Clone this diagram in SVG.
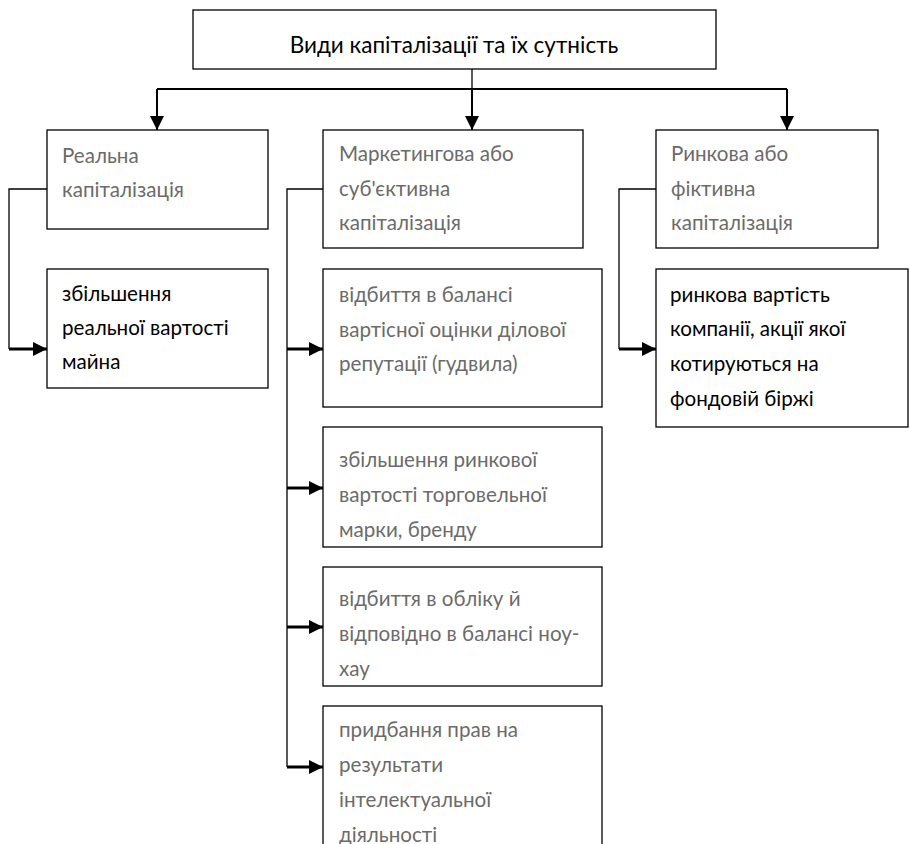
<svg xmlns="http://www.w3.org/2000/svg" width="910" height="844" viewBox="0 0 910 844">
<style>
.box{fill:#fff;stroke:#000;stroke-width:1.3}
.t{font-family:Lato,"Open Sans","Liberation Sans",sans-serif;font-size:20.6px}
.g{fill:#6b6b6b}
.k{fill:#000}
.title{font-family:Lato,"Open Sans","Liberation Sans",sans-serif;font-size:22.5px;fill:#000}
.thin{fill:none;stroke:#000;stroke-width:1.3}
.mid{fill:none;stroke:#000;stroke-width:2}
.thick{fill:none;stroke:#000;stroke-width:2.8}
</style>
<defs>
<marker id="ah" viewBox="0 0 14 14" refX="14" refY="7" markerWidth="14" markerHeight="14" markerUnits="userSpaceOnUse" orient="auto">
<path d="M0,0 L14,7 L0,14 z" fill="#000"/>
</marker>
</defs>
<g id="connectors">
<path class="thin" d="M472,69 V89"/>
<path class="mid" d="M157,89 H787"/>
<path class="mid" d="M157,89 V130" marker-end="url(#ah)"/>
<path class="mid" d="M472,89 V130" marker-end="url(#ah)"/>
<path class="mid" d="M787,89 V130" marker-end="url(#ah)"/>
<path class="thin" d="M47,189 H9 V349"/>
<path class="thick" d="M9,349 H47" marker-end="url(#ah)"/>
<path class="thin" d="M323,189 H287 V767"/>
<path class="thick" d="M287,349 H323" marker-end="url(#ah)"/>
<path class="thick" d="M287,488 H323" marker-end="url(#ah)"/>
<path class="thick" d="M287,627 H323" marker-end="url(#ah)"/>
<path class="thick" d="M287,767 H323" marker-end="url(#ah)"/>
<path class="thin" d="M656,189 H619 V349"/>
<path class="thick" d="M619,349 H656" marker-end="url(#ah)"/>
</g>
<g id="title">
<rect class="box" x="193" y="10" width="523" height="59"/>
<text class="title" x="454" y="53" text-anchor="middle">Види капіталізації та їх сутність</text>
</g>
<g id="real">
<rect class="box" x="47" y="130" width="221" height="99"/>
<text class="t g"><tspan x="62" y="163">Реальна</tspan><tspan x="62" y="197">капіталізація</tspan></text>
</g>
<g id="real-desc">
<rect class="box" x="47" y="269" width="221" height="119"/>
<text class="t k"><tspan x="62" y="301">збільшення</tspan><tspan x="62" y="335">реальної вартості</tspan><tspan x="62" y="369">майна</tspan></text>
</g>
<g id="marketing">
<rect class="box" x="323" y="130" width="260" height="118"/>
<text class="t g"><tspan x="339" y="161">Маркетингова або</tspan><tspan x="339" y="196">суб'єктивна</tspan><tspan x="339" y="230">капіталізація</tspan></text>
</g>
<g id="m1">
<rect class="box" x="323" y="269" width="279" height="138"/>
<text class="t g"><tspan x="339" y="302">відбиття в балансі</tspan><tspan x="339" y="337">вартісної оцінки ділової</tspan><tspan x="339" y="371">репутації (гудвила)</tspan></text>
</g>
<g id="m2">
<rect class="box" x="323" y="427" width="279" height="120"/>
<text class="t g"><tspan x="339" y="467">збільшення ринкової</tspan><tspan x="339" y="502">вартості торговельної</tspan><tspan x="339" y="537">марки, бренду</tspan></text>
</g>
<g id="m3">
<rect class="box" x="323" y="567" width="279" height="119"/>
<text class="t g"><tspan x="339" y="606">відбиття в обліку й</tspan><tspan x="339" y="641">відповідно в балансі ноу-</tspan><tspan x="339" y="676">хау</tspan></text>
</g>
<g id="m4">
<rect class="box" x="323" y="706" width="279" height="160"/>
<text class="t g"><tspan x="339" y="737">придбання прав на</tspan><tspan x="339" y="772">результати</tspan><tspan x="339" y="807">інтелектуальної</tspan><tspan x="339" y="842">діяльності</tspan></text>
</g>
<g id="market">
<rect class="box" x="656" y="130" width="222" height="118"/>
<text class="t g"><tspan x="671" y="161">Ринкова або</tspan><tspan x="671" y="196">фіктивна</tspan><tspan x="671" y="230">капіталізація</tspan></text>
</g>
<g id="market-desc">
<rect class="box" x="656" y="269" width="252" height="158"/>
<text class="t k"><tspan x="670" y="302">ринкова вартість</tspan><tspan x="670" y="336">компанії, акції якої</tspan><tspan x="670" y="371">котируються на</tspan><tspan x="670" y="406">фондовій біржі</tspan></text>
</g>
</svg>
